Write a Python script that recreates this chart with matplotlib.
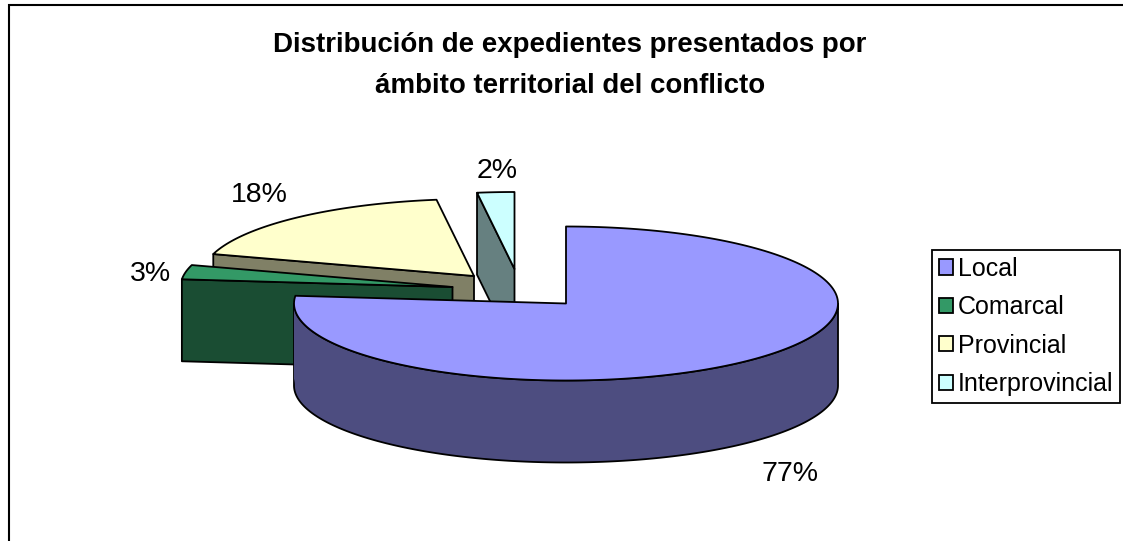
import numpy as np
import matplotlib
matplotlib.use("Agg")
import matplotlib.pyplot as plt
from matplotlib.patches import Polygon, Patch, Rectangle

plt.rcParams['font.family'] = ['Liberation Sans', 'DejaVu Sans']

categories = ["Local", "Comarcal", "Provincial", "Interprovincial"]
shares = [76.6, 3.0, 18.2, 2.2]
title_lines = ["Distribución de expedientes presentados por", "ámbito territorial del conflicto"]

top_colors = ["#9999FF", "#339966", "#FFFFCC", "#CCFFFF"]
cut_colors = ["#4D4D80", "#1A4D33", "#808066", "#668080"]
centers = [(566, 303.5), (452.5, 287), (474, 276), (514.5, 269)]
label_pos = [(790, 474), (150, 274), (259, 195), (497, 171)]
RX, RY, DEPTH = 272, 77, 82
LW = 1.3

W, H = 1123, 541
fig = plt.figure(figsize=(W / 100, H / 100), dpi=100)
ax = fig.add_axes([0, 0, 1, 1])
ax.set_xlim(0, W)
ax.set_ylim(H, 0)
ax.axis("off")

ax.add_patch(Rectangle((8.5, 4.5), 1140, 600, fc="white", ec="black", lw=1.5, clip_on=True))


def rim(c, t0, t1, n=200):
    t = np.radians(np.linspace(t0, t1, n))
    return np.column_stack([c[0] + RX * np.sin(t), c[1] - RY * np.cos(t)])


def draw_slice(i, t0, t1, z):
    c = centers[i]
    arc = rim(c, t0, t1)
    # the cut face leaving the centre is visible on the detached far slices
    if i != 0:
        p = rim(c, t0, t0, 1)[0]
        ax.add_patch(Polygon([c, p, p + [0, DEPTH], np.array(c) + [0, DEPTH]],
                             fc=cut_colors[i], ec="black", lw=LW, zorder=z, joinstyle="round"))
    # outer wall for the front half of the ellipse
    a, b = max(t0, 90), min(t1, 270)
    if a < b:
        wall = rim(c, a, b)
        ax.add_patch(Polygon(np.vstack([wall, wall[::-1] + [0, DEPTH]]),
                             fc=cut_colors[i], ec="black", lw=LW, zorder=z))
    if i == 0:
        wall = rim(c, 270, t1)
        ax.add_patch(Polygon(np.vstack([wall, wall[::-1] + [0, DEPTH]]),
                             fc=cut_colors[i], ec=cut_colors[i], lw=0, zorder=z))
    ax.add_patch(Polygon(np.vstack([c, arc]), fc=top_colors[i], ec="black", lw=LW,
                         zorder=z + 0.5, joinstyle="round"))


angles = np.cumsum([0] + shares) * 3.6
# far slices are painted first so the nearer ones cover them
order = [3, 2, 1, 0]
for z, i in enumerate(order):
    draw_slice(i, angles[i], angles[i + 1], z + 2)

for v, (x, y) in zip(shares, label_pos):
    ax.text(x, y, f"{v:.0f}%", ha="center", va="center", fontsize=20.5, color="black", zorder=20)

for line, y in zip(title_lines, (45, 86)):
    ax.text(570, y, line, ha="center", va="center", fontsize=19.9, fontweight="bold", zorder=20)

handles = [Patch(fc=c, ec="black", lw=LW) for c in top_colors]
leg = ax.legend(handles, categories, loc="upper left", bbox_to_anchor=(932 / W, 1 - 250 / H),
                bbox_transform=fig.transFigure, fontsize=18, frameon=True, fancybox=False,
                framealpha=1, edgecolor="black", borderaxespad=0, borderpad=0.27,
                handlelength=0.56, handleheight=0.56, handletextpad=0.2, labelspacing=0.577)
leg.get_frame().set_linewidth(LW)
leg.set_zorder(30)

fig.savefig("out.png", dpi=100, facecolor="white")
